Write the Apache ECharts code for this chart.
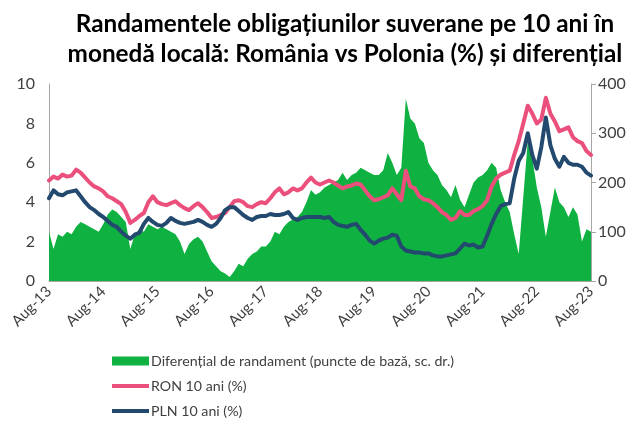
<!DOCTYPE html>
<html>
<head>
<meta charset="utf-8">
<title>Randamente RON vs PLN</title>
<script src="https://cdn.jsdelivr.net/npm/echarts@6/dist/echarts.min.js"></script>
<style>
	html, body { margin: 0; padding: 0; background: #fff; }
	#chart { width: 638px; height: 423px; }
</style>
</head>
<body>
<div id="chart"></div>
<script>
// etichete ax X (o eticheta la 12 luni)
var yearLabels = ['Aug-13', 'Aug-14', 'Aug-15', 'Aug-16', 'Aug-17', 'Aug-18', 'Aug-19', 'Aug-20', 'Aug-21', 'Aug-22', 'Aug-23'];

// RON 10 ani (%), lunar din aug-13
var ronYield = [
	5.1, 5.3, 5.2, 5.4, 5.3, 5.35, 5.65, 5.5, 5.25, 5.0, 4.8, 4.7,
	4.55, 4.3, 4.2, 4.05, 3.9, 3.5, 2.95, 3.1, 3.3, 3.45, 4.0, 4.3,
	4.0, 3.9, 3.85, 3.95, 4.05, 3.85, 3.7, 3.6, 3.8, 3.95, 3.75, 3.5,
	3.2, 3.25, 3.35, 3.45, 3.75, 4.05, 4.1, 4.0, 3.8, 3.75, 3.9, 4.0,
	3.95, 4.2, 4.5, 4.7, 4.4, 4.5, 4.7, 4.6, 4.7, 5.0, 5.25, 5.0,
	4.9, 5.0, 5.1, 5.0, 4.85, 4.7, 4.8, 4.85, 4.95, 4.9, 4.6, 4.3,
	4.1, 4.15, 4.25, 4.35, 4.7, 4.4, 4.1, 5.6, 4.8, 4.7, 4.3, 4.15,
	4.1, 3.95, 3.75, 3.5, 3.35, 3.1, 3.2, 3.55, 3.35, 3.35, 3.55, 3.65,
	3.8, 4.1, 4.8, 5.2, 5.4, 5.5, 5.6, 6.4, 7.1, 8.0, 8.9, 8.5,
	8.0, 8.2, 9.3, 8.5, 8.1, 7.6, 7.7, 7.8, 7.3, 7.1, 7.0, 6.6,
	6.4
];

// PLN 10 ani (%)
var plnYield = [
	4.2, 4.6, 4.4, 4.35, 4.5, 4.55, 4.6, 4.3, 4.0, 3.75, 3.6, 3.4,
	3.25, 3.05, 2.85, 2.75, 2.5, 2.3, 2.15, 2.35, 2.45, 2.9, 3.2, 3.0,
	2.85, 2.8, 2.95, 3.2, 3.05, 2.95, 2.9, 2.95, 3.0, 3.1, 3.0, 2.85,
	2.75, 2.9, 3.2, 3.6, 3.75, 3.75, 3.55, 3.35, 3.2, 3.1, 3.25, 3.3,
	3.3, 3.4, 3.35, 3.35, 3.4, 3.5, 3.2, 3.1, 3.2, 3.25, 3.25, 3.25,
	3.25, 3.2, 3.25, 3.0, 2.85, 2.8, 2.75, 2.85, 2.9, 2.6, 2.35, 2.05,
	1.9, 2.05, 2.15, 2.2, 2.35, 2.3, 1.75, 1.55, 1.5, 1.45, 1.45, 1.4,
	1.4, 1.3, 1.25, 1.25, 1.3, 1.35, 1.4, 1.65, 1.9, 1.8, 1.85, 1.7,
	1.75, 2.3, 2.9, 3.4, 3.8, 3.9, 3.95, 5.2, 6.1, 6.5, 7.5, 6.4,
	5.7, 6.8, 8.3, 6.9, 6.2, 5.8, 6.3, 6.0, 5.9, 5.9, 5.8, 5.5,
	5.35
];

// diferential (puncte de baza, scala dreapta)
var spreadBp = [
	100, 65, 95, 90, 100, 95, 110, 120, 115, 110, 105, 100,
	115, 135, 145, 140, 130, 120, 65, 95, 105, 100, 115, 110,
	105, 110, 105, 100, 95, 80, 55, 75, 85, 90, 80, 60,
	40, 30, 20, 15, 8, 20, 35, 30, 45, 55, 60, 70,
	70, 80, 100, 95, 110, 120, 125, 130, 140, 160, 185, 175,
	180, 190, 195, 200, 205, 220, 205, 215, 220, 230, 225, 220,
	215, 215, 225, 260, 240, 215, 230, 370, 330, 320, 290, 280,
	240, 225, 215, 195, 185, 170, 195, 165, 150, 175, 200, 210,
	215, 225, 240, 230, 185, 160, 140, 95, 55, 170, 285, 250,
	190, 150, 90, 140, 190, 160, 150, 130, 150, 135, 80, 105,
	100
];

var legendNames = ['Diferențial de randament (puncte de bază, sc. dr.)', 'RON 10 ani (%)', 'PLN 10 ani (%)'];

var chartJs = {
	colors: {
		spread: '#0fb140',
		ron: '#eb4f7b',
		pln: '#234a6e',
		axis: '#a6a6a6',
		text: '#404040'
	},

	init: function() {
		var _this = this;
		var chart = echarts.init(document.getElementById('chart'));
		chart.setOption(_this.option());
	},

	option: function() {
		var c = this.colors;
		var font = 'Lato, "Noto Sans", sans-serif';
		var months = ronYield.map(function(v, i) { return i; });
		// linie groasa in legenda, fara marker
		var lineIcon = 'path://M0,0 L37,0 L37,4 L0,4 Z';

		return {
			animation: false,
			textStyle: { fontFamily: font },
			title: {
				text: 'Randamentele obligațiunilor suverane pe 10 ani în\nmonedă locală: România vs Polonia (%) și diferențial',
				left: 340,
				top: 4,
				textAlign: 'center',
				textStyle: { fontFamily: font, fontSize: 24.3, fontWeight: 'bold', color: '#000', lineHeight: 30 }
			},
			grid: { left: 49, right: 47, top: 84, bottom: 142 },
			legend: {
				orient: 'vertical',
				left: 107,
				top: 349,
				itemGap: 11,
				itemWidth: 37,
				itemHeight: 9,
				textStyle: { fontFamily: font, fontSize: 14.2, color: c.text, padding: [0, 0, 0, -3] },
				data: [
					{ name: legendNames[0], icon: 'rect' },
					{ name: legendNames[1], icon: lineIcon },
					{ name: legendNames[2], icon: lineIcon }
				]
			},
			xAxis: {
				type: 'category',
				boundaryGap: false,
				data: months,
				axisLine: { lineStyle: { color: c.axis, width: 1 } },
				axisTick: { show: false },
				axisLabel: {
					interval: 11,
					rotate: 45,
					color: c.text,
					fontSize: 15,
					margin: 8,
					formatter: function(v, i) { return yearLabels[i / 12] || ''; }
				},
				splitLine: { show: false }
			},
			yAxis: [{
				type: 'value',
				min: 0,
				max: 10,
				interval: 2,
				axisLine: { show: true, lineStyle: { color: c.axis } },
				axisTick: { show: false },
				axisLabel: { color: c.text, fontSize: 16, margin: 14 },
				splitLine: { show: false }
			}, {
				type: 'value',
				min: 0,
				max: 400,
				interval: 100,
				axisLine: { show: true, lineStyle: { color: c.axis } },
				axisTick: { show: true, length: 5, lineStyle: { color: c.axis } },
				axisLabel: { color: c.text, fontSize: 16, margin: 7 },
				splitLine: { show: false }
			}],
			series: [{
				name: legendNames[0],
				type: 'line',
				yAxisIndex: 1,
				data: spreadBp,
				symbol: 'none',
				lineStyle: { width: 0 },
				itemStyle: { color: c.spread },
				areaStyle: { color: c.spread, opacity: 1 }
			}, {
				name: legendNames[1],
				type: 'line',
				data: ronYield,
				symbol: 'none',
				lineStyle: { width: 4, color: c.ron, cap: 'round', join: 'round' },
				itemStyle: { color: c.ron }
			}, {
				name: legendNames[2],
				type: 'line',
				data: plnYield,
				symbol: 'none',
				lineStyle: { width: 4, color: c.pln, cap: 'round', join: 'round' },
				itemStyle: { color: c.pln }
			}]
		};
	}
};

chartJs.init();
</script>
</body>
</html>
